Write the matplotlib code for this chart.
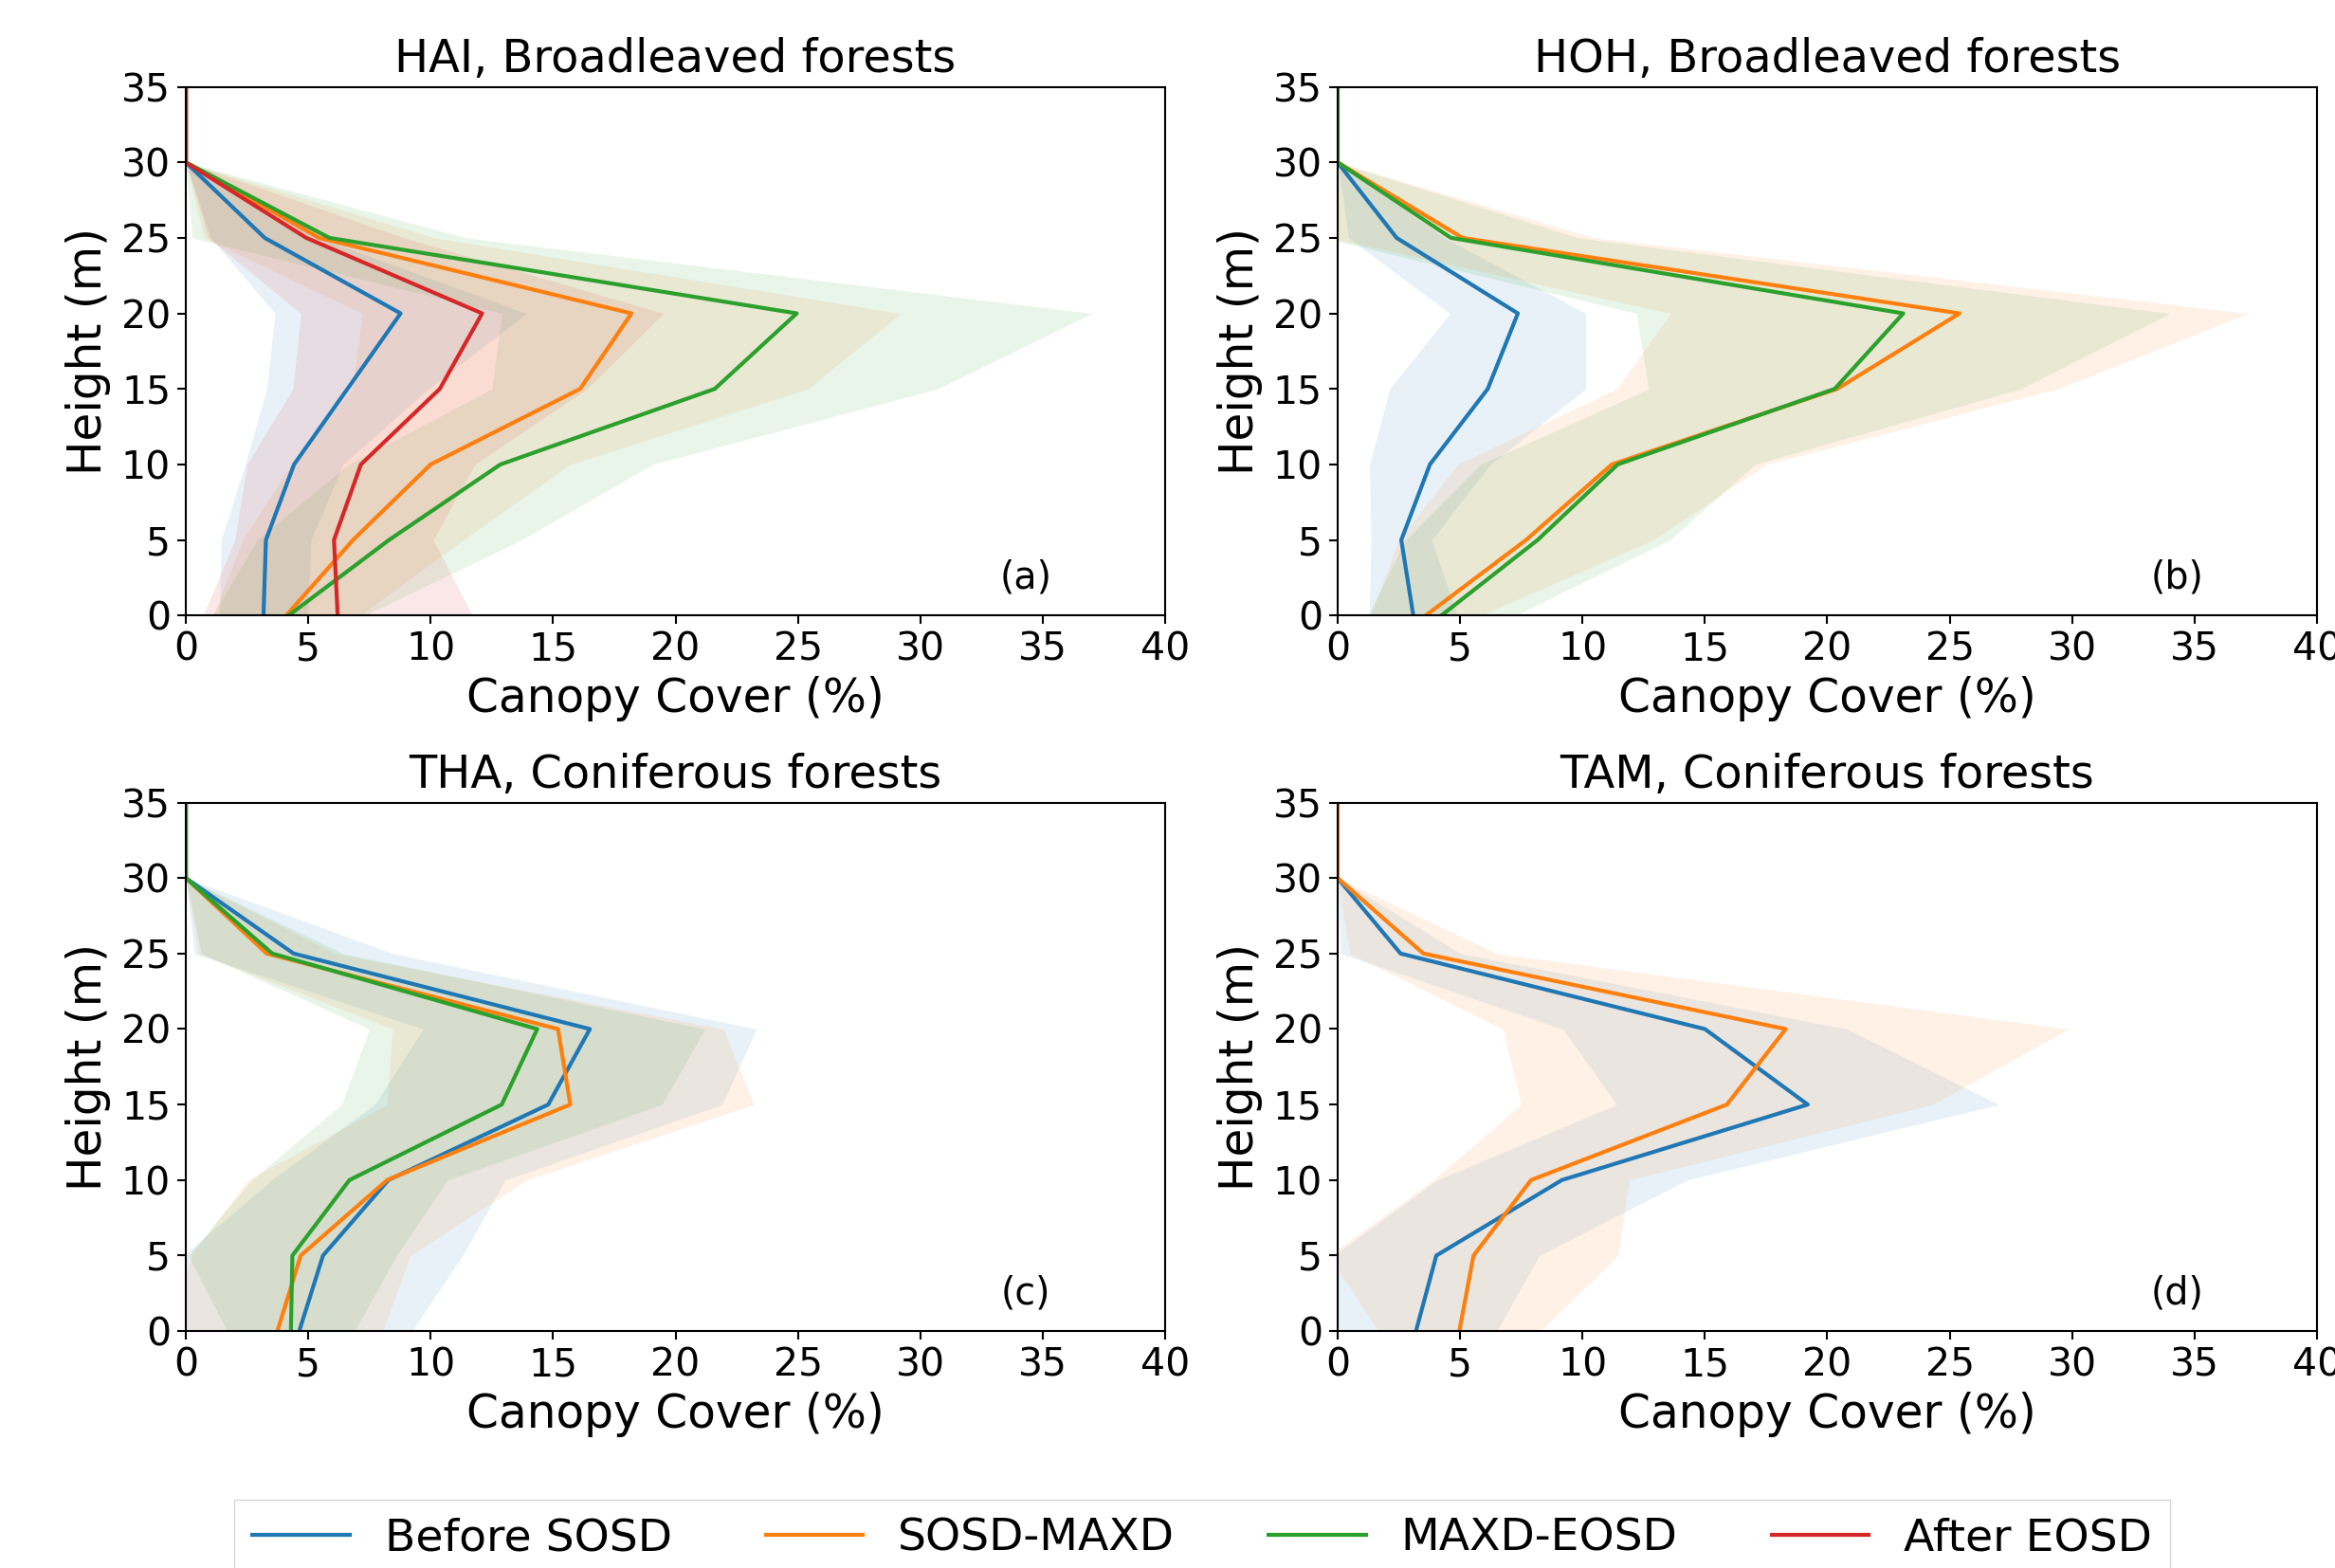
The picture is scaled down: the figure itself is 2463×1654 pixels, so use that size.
import matplotlib
matplotlib.use("Agg")
import matplotlib.pyplot as plt
import numpy as np

heights = [0, 5, 10, 15, 20, 25, 30, 35]
series_names = ["Before SOSD", "SOSD-MAXD", "MAXD-EOSD", "After EOSD"]
colors = ["tab:blue", "tab:orange", "tab:green", "tab:red"]

# HAI, Broadleaved forests
hai_before = [3.17, 3.27, 4.42, 6.6, 8.77, 3.22, 0, 0]
hai_before_sd = [1.8, 1.83, 2.0, 3.3, 5.13, 2.2, 0, 0]
hai_sosd = [4.1, 6.83, 10.0, 16.1, 18.2, 5.45, 0, 0]
hai_sosd_sd = [3.0, 4.5, 5.7, 9.3, 11.0, 4.7, 0, 0]
hai_maxd = [4.2, 8.3, 12.85, 21.6, 24.95, 5.86, 0, 0]
hai_maxd_sd = [3.1, 5.4, 6.2, 9.1, 12.05, 5.6, 0, 0]
hai_after = [6.2, 6.05, 7.15, 10.37, 12.1, 4.92, 0, 0]
hai_after_sd = [5.5, 4.05, 4.65, 6.0, 7.4, 4.0, 0, 0]

# HOH, Broadleaved forests
hoh_before = [3.09, 2.6, 3.77, 6.13, 7.36, 2.41, 0, 0]
hoh_before_sd = [1.8, 1.24, 2.47, 4.0, 2.77, 1.96, 0, 0]
hoh_sosd = [3.6, 7.7, 11.2, 20.4, 25.4, 5.1, 0, 0]
hoh_sosd_sd = [2.25, 5.2, 6.3, 9.0, 11.8, 5.4, 0, 0]
hoh_maxd = [4.24, 8.17, 11.44, 20.3, 23.1, 4.63, 0, 0]
hoh_maxd_sd = [3.0, 5.4, 5.6, 7.6, 10.9, 5.2, 0, 0]

# THA, Coniferous forests
tha_before = [4.63, 5.6, 8.27, 14.8, 16.5, 4.4, 0, 0]
tha_before_sd = [4.6, 5.7, 4.77, 7.1, 6.8, 4.05, 0, 0]
tha_sosd = [3.74, 4.69, 8.22, 15.7, 15.2, 3.3, 0, 0]
tha_sosd_sd = [4.3, 4.47, 5.7, 7.5, 6.75, 2.8, 0, 0]
tha_maxd = [4.29, 4.35, 6.68, 12.9, 14.35, 3.53, 0, 0]
tha_maxd_sd = [2.6, 4.25, 4.0, 6.54, 6.85, 2.9, 0, 0]

# TAM, Coniferous forests
tam_before = [3.2, 4.03, 9.16, 19.2, 15.0, 2.57, 0, 0]
tam_before_sd = [3.3, 4.2, 5.1, 7.8, 5.8, 2.45, 0, 0]
tam_sosd = [4.97, 5.55, 7.9, 15.9, 18.3, 3.5, 0, 0]
tam_sosd_sd = [3.3, 5.9, 4.0, 8.4, 11.55, 3.0, 0, 0]

panels = [
    ("HAI, Broadleaved forests", "(a)",
     [(hai_before, hai_before_sd), (hai_sosd, hai_sosd_sd), (hai_maxd, hai_maxd_sd), (hai_after, hai_after_sd)]),
    ("HOH, Broadleaved forests", "(b)",
     [(hoh_before, hoh_before_sd), (hoh_sosd, hoh_sosd_sd), (hoh_maxd, hoh_maxd_sd)]),
    ("THA, Coniferous forests", "(c)",
     [(tha_before, tha_before_sd), (tha_sosd, tha_sosd_sd), (tha_maxd, tha_maxd_sd)]),
    ("TAM, Coniferous forests", "(d)",
     [(tam_before, tam_before_sd), (tam_sosd, tam_sosd_sd)]),
]

fig, axes = plt.subplots(2, 2, figsize=(24.63, 16.54), dpi=100)
fig.subplots_adjust(left=0.0796, right=0.9923, top=0.9446, bottom=0.1511,
                    wspace=0.176, hspace=0.354)

h = np.array(heights)
for ax, (title, tag, data) in zip(axes.flat, panels):
    for i, (mean, sd) in enumerate(data):
        m = np.array(mean)
        s = np.array(sd)
        ax.fill_betweenx(h, m - s, m + s, color=colors[i], alpha=0.1, linewidth=0)
        ax.plot(m, h, color=colors[i], lw=3.0, label=series_names[i])
    ax.set_xlim(0, 40)
    ax.set_ylim(0, 35)
    ax.set_xticks(range(0, 41, 5))
    ax.set_yticks(range(0, 36, 5))
    ax.set_title(title, fontsize=34.5, pad=11)
    ax.set_xlabel("Canopy Cover (%)", fontsize=35, labelpad=6)
    ax.set_ylabel("Height (m)", fontsize=35, labelpad=8)
    ax.tick_params(labelsize=29.5, length=6.5, width=1.5, pad=5)
    for sp in ax.spines.values():
        sp.set_linewidth(1.5)
    ax.text(34.3, 2.5, tag, fontsize=28.5, ha="center", va="center")

handles, labels = axes[0, 0].get_legend_handles_labels()
fig.legend(handles, labels, loc="upper center", bbox_to_anchor=(0.5148, 0.0435),
           ncol=4, fontsize=34, handlelength=2.17, handletextpad=0.78,
           columnspacing=2.1, fancybox=False, borderaxespad=0)

fig.savefig("out.png", dpi=100)
